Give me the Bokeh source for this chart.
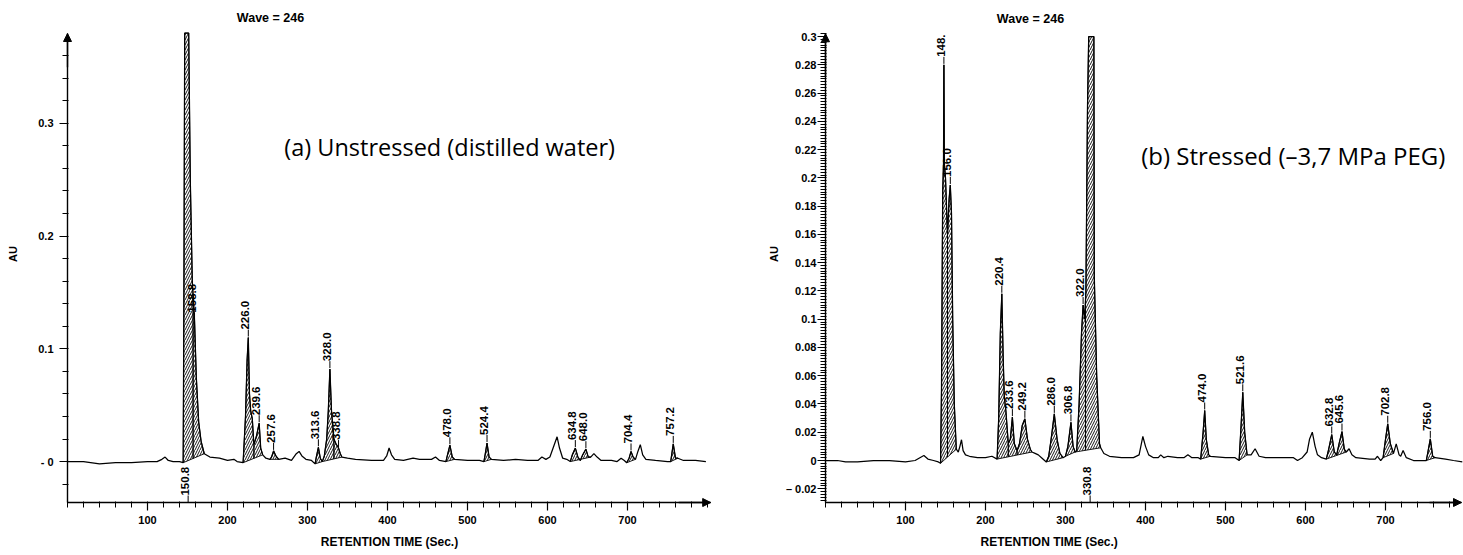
import numpy as np
from bokeh.plotting import figure
from bokeh.layouts import row
from bokeh.models import FixedTicker, Label, Arrow, NormalHead, Range1d, Title
from bokeh.embed import file_html
from bokeh.resources import INLINE
from bokeh.core.properties import value

# ---------------- Panel (a): unstressed ----------------
time_a = [0, 20, 40, 60, 80, 100, 112, 118, 122, 126, 132, 140, 144.6, 145.5, 146.5, 151.5, 153.5, 156,
          158.8, 161, 164, 167, 171, 178, 190, 200, 208, 212, 219.5, 222.5, 224.5, 226, 227.5, 229, 231,
          233, 236, 239.6, 241.5, 244, 248, 253, 255, 257.6, 260.5, 264, 272, 280, 286, 289.5, 293, 298,
          305, 309.5, 311, 313.6, 316, 318.5, 321, 324, 326, 328, 330, 333, 335.5, 338.8, 341, 343, 350,
          360, 380, 395, 399, 402, 405, 409, 420, 432, 440, 455, 460, 465, 473, 475, 478, 481, 484, 500,
          515, 520.5, 522, 524.4, 527, 530, 545, 560, 575, 588, 593, 598, 603, 607, 612, 615, 619, 624,
          628.5, 631, 634.8, 638, 641, 644, 648, 651, 654, 658, 662, 667, 680, 687, 692, 696, 699, 702,
          704.4, 707, 710, 713, 716, 719, 723, 735, 750, 754, 757.2, 760, 763, 770, 785, 798]
au_a = [0.000, 0.000, -0.002, -0.001, -0.001, 0.000, 0.000, 0.002, 0.004, 0.001, 0.000, 0.000, -0.001,
        0.15, 0.38, 0.38, 0.25, 0.16, 0.125, 0.075, 0.035, 0.018, 0.007, 0.004, 0.003, 0.001, 0.002,
        0.000, -0.001, 0.04, 0.09, 0.11, 0.06, 0.045, 0.038, 0.015, 0.022, 0.034, 0.012, 0.006, 0.003,
        0.002, 0.004, 0.0095, 0.005, 0.002, 0.003, 0.001, 0.007, 0.009, 0.005, 0.002, 0.001, -0.002,
        0.004, 0.0127, 0.003, 0.000, 0.005, 0.02, 0.045, 0.082, 0.045, 0.02, 0.016, 0.012, 0.007, 0.004,
        0.003, 0.002, 0.001, 0.001, 0.005, 0.012, 0.006, 0.002, 0.001, 0.003, 0.002, 0.002, 0.004, 0.001,
        0.000, 0.006, 0.0145, 0.004, 0.002, 0.001, 0.001, 0.000, 0.006, 0.0165, 0.004, 0.002, 0.001,
        0.002, 0.001, 0.001, 0.004, 0.002, 0.004, 0.012, 0.022, 0.012, 0.003, 0.002, 0.000, 0.006, 0.012,
        0.004, 0.001, 0.006, 0.011, 0.004, 0.004, 0.007, 0.004, 0.001, 0.001, 0.000, 0.003, 0.001, -0.001,
        0.003, 0.009, 0.004, 0.002, 0.009, 0.015, 0.006, 0.002, 0.001, 0.000, 0.000, 0.0157, 0.003, 0.003,
        0.001, 0.001, 0.000]
peak_label_a = ["150.8", "158.8", "226.0", "239.6", "257.6", "313.6", "328.0", "338.8", "478.0",
                "524.4", "634.8", "648.0", "704.4", "757.2"]
peak_rt_a = [150.8, 158.8, 226.0, 239.6, 257.6, 313.6, 328.0, 338.8, 478.0, 524.4, 634.8, 648.0, 704.4, 757.2]
peak_start_a = [144.6, 157.0, 219.5, 233.0, 253.0, 309.5, 318.5, 333.0, 473.0, 520.5, 628.5, 641.0, 699.0, 754.0]
peak_end_a = [157.0, 171.0, 233.0, 244.0, 264.0, 318.5, 333.0, 343.0, 484.0, 530.0, 641.0, 654.0, 710.0, 763.0]
peak_group_a = [0, 0, 1, 1, 2, 3, 4, 4, 5, 6, 7, 7, 8, 9]
offscale_a = ["150.8"]

# ---------------- Panel (b): stressed ----------------
time_b = [0, 15, 25, 40, 60, 80, 100, 112, 118, 123, 128, 135, 141, 143.8, 145, 146.5, 147.5, 148, 148.6,
          150, 152.5, 154.5, 156, 157.5, 159, 161, 163.5, 166, 168, 170, 172, 175, 180, 190, 200, 208,
          214.5, 216.5, 218.5, 220.4, 222, 223.5, 225.5, 228.5, 231, 233.6, 236, 239.5, 242.5, 246, 249.2,
          252.5, 256, 258, 262, 266, 270, 276, 279, 282, 286, 289.5, 293, 297, 300, 303, 306.8, 309.5,
          312, 314, 317, 320, 322, 324, 325.5, 327.5, 329, 335.5, 336, 339, 342.5, 344, 348, 355, 370,
          385, 392, 396.7, 400, 404, 410, 416, 419, 423, 428, 440, 448, 453, 458, 466, 469, 472, 474, 476,
          479, 481, 500, 512, 517, 519.5, 521.6, 524, 527, 532, 537, 542, 550, 570, 585, 590, 596, 602,
          605, 608.5, 612, 615, 620, 626, 629, 632.8, 636, 639, 642, 645.6, 648.5, 651, 654.5, 658, 663,
          680, 687, 690, 694, 697, 700, 702.8, 706, 710, 713.4, 717, 719, 722, 726, 735, 751, 753, 756,
          759, 762, 775, 785, 796]
au_b = [0.000, 0.000, -0.001, -0.001, 0.000, 0.000, -0.001, 0.000, 0.002, 0.0035, 0.001, 0.000, -0.001,
        -0.002, 0.05, 0.19, 0.21, 0.28, 0.21, 0.2, 0.16, 0.185, 0.195, 0.175, 0.1, 0.04, 0.008, 0.006,
        0.01, 0.0147, 0.007, 0.004, 0.003, 0.002, 0.002, 0.003, 0.001, 0.03, 0.09, 0.118, 0.075, 0.045,
        0.035, 0.012, 0.015, 0.0307, 0.012, 0.007, 0.012, 0.025, 0.0295, 0.015, 0.008, 0.006, 0.005,
        0.004, 0.002, -0.001, 0.003, 0.015, 0.033, 0.015, 0.005, 0.002, 0.003, 0.01, 0.027, 0.01, 0.006,
        0.007, 0.04, 0.09, 0.11, 0.1, 0.12, 0.25, 0.30, 0.30, 0.13, 0.06, 0.012, 0.009, 0.005, 0.003,
        0.002, 0.002, 0.004, 0.017, 0.01, 0.004, 0.002, 0.002, 0.004, 0.002, 0.003, 0.002, 0.002, 0.004,
        0.002, 0.002, 0.001, 0.02, 0.0354, 0.015, 0.004, 0.003, 0.002, 0.002, 0.000, 0.025, 0.0483, 0.02,
        0.004, 0.004, 0.0083, 0.003, 0.002, 0.002, 0.002, 0.000, 0.002, 0.006, 0.015, 0.02, 0.01, 0.004,
        0.002, 0.001, 0.008, 0.0184, 0.006, 0.004, 0.012, 0.0205, 0.008, 0.006, 0.0083, 0.004, 0.002,
        0.001, 0.001, 0.003, 0.000, 0.002, 0.015, 0.026, 0.012, 0.005, 0.0118, 0.004, 0.003, 0.007, 0.002,
        0.000, 0.000, 0.006, 0.0153, 0.003, 0.002, 0.001, 0.000, -0.001]
peak_label_b = ["148.", "156.0", "220.4", "233.6", "249.2", "286.0", "306.8", "322.0", "330.8", "474.0",
                "521.6", "632.8", "645.6", "702.8", "756.0"]
peak_rt_b = [148.0, 156.0, 220.4, 233.6, 249.2, 286.0, 306.8, 322.0, 330.8, 474.0, 521.6, 632.8, 645.6, 702.8, 756.0]
peak_start_b = [143.8, 152.5, 214.5, 228.5, 239.5, 276.0, 300.0, 312.0, 325.0, 469.0, 517.0, 626.0, 639.0, 697.0, 751.0]
peak_end_b = [152.5, 163.5, 228.5, 239.5, 258.0, 297.0, 312.0, 325.0, 344.0, 481.0, 527.0, 639.0, 651.0, 710.0, 762.0]
peak_group_b = [0, 0, 1, 1, 1, 2, 3, 4, 4, 5, 6, 7, 7, 8, 9]
offscale_b = ["330.8"]

# axis ticks
x_ticks = [100, 200, 300, 400, 500, 600, 700]
x_minor = list(range(0, 801, 20))
y_ticks_a = [0, 0.1, 0.2, 0.3]
y_labels_a = ["- 0", "0.1", "0.2", "0.3"]
y_ticks_b = [-0.02, 0, 0.02, 0.04, 0.06, 0.08, 0.1, 0.12, 0.14, 0.16, 0.18, 0.2, 0.22, 0.24, 0.26, 0.28, 0.3]
y_labels_b = ["\u2013 0.02", "0", "0.02", "0.04", "0.06", "0.08", "0.1", "0.12", "0.14", "0.16", "0.18",
              "0.2", "0.22", "0.24", "0.26", "0.28", "0.3"]

FONT = "Liberation Sans"
INSET = 5  # px between frame edge and the drawn axis line


def peak_polys(t, y, starts, ends, groups):
    t = np.asarray(t, float)
    y = np.asarray(y, float)
    xs, ys = [], []
    for s, e, g in zip(starts, ends, groups):
        gs = min(st for st, gg in zip(starts, groups) if gg == g)
        ge = max(en for en, gg in zip(ends, groups) if gg == g)
        y0, y1 = np.interp(gs, t, y), np.interp(ge, t, y)

        def base(x):
            return y0 + (y1 - y0) * (x - gs) / (ge - gs)

        inside = (t > s) & (t < e)
        px = [s] + list(t[inside]) + [e, e, s]
        py = [np.interp(s, t, y)] + list(y[inside]) + [np.interp(e, t, y), base(e), base(s)]
        xs.append([float(v) for v in px])
        ys.append([float(v) for v in py])
    return xs, ys


def build(width, border_left, border_right, border_bottom, xr, yr, axis_x, axis_y, t, y, labels, rts,
          starts, ends, groups, offscale, yticks, ylabels, yminor, tick_std, label_std):
    """xr/yr: frame ranges; axis_x: (x0, x_end) of drawn x-axis; axis_y: (y_bottom, y_top) of drawn y-axis"""
    p = figure(width=width, height=555, x_range=Range1d(*xr), y_range=Range1d(*yr), title=None,
               output_backend="svg", toolbar_location=None,
               min_border_left=border_left, min_border_right=border_right,
               min_border_top=0, min_border_bottom=border_bottom)
    p.outline_line_color = None
    p.grid.visible = False

    xa, ya = p.xaxis[0], p.yaxis[0]
    xa.bounds = (axis_x[0], axis_x[1])
    ya.bounds = (axis_y[0], axis_y[1])
    xa.ticker = FixedTicker(ticks=x_ticks, minor_ticks=x_minor)
    ya.ticker = FixedTicker(ticks=yticks, minor_ticks=yminor)
    ya.major_label_overrides = {k: v for k, v in zip(yticks, ylabels)}
    xa.major_label_standoff = 5
    ya.major_label_standoff = tick_std
    ya.axis_label = "AU"
    ya.axis_label_standoff = label_std
    for ax in (xa, ya):
        ax.axis_line_color = None
        ax.major_tick_in = INSET
        ax.major_tick_out = 3
        ax.minor_tick_in = INSET + 1
        ax.minor_tick_out = 0
        ax.major_tick_line_width = 1.2
        ax.major_label_text_font = FONT
        ax.major_label_text_font_style = "bold"
        ax.major_label_text_font_size = "11px"
        ax.major_label_text_color = "black"
        ax.axis_label_text_font = FONT
        ax.axis_label_text_font_style = "bold"
        ax.axis_label_text_font_size = "11px"
        ax.axis_label_text_color = "black"

    # axis lines with arrow heads
    p.segment(x0=[axis_x[0], axis_x[0]], y0=[axis_y[0], axis_y[0]],
              x1=[axis_x[0], axis_x[1]], y1=[axis_y[1], axis_y[0]], line_color="black", line_width=1.4)
    head = dict(size=8, fill_color="black", line_color="black")
    p.add_layout(Arrow(end=NormalHead(**head), x_start=axis_x[0], y_start=axis_y[1] - 0.03,
                       x_end=axis_x[0], y_end=axis_y[1], line_color="black", line_width=1.4))
    p.add_layout(Arrow(end=NormalHead(**head), x_start=axis_x[1] - 40, y_start=axis_y[0],
                       x_end=axis_x[1], y_end=axis_y[0], line_color="black", line_width=1.4))

    # integrated (hatched) peaks
    xs, ys = peak_polys(t, y, starts, ends, groups)
    p.patches(xs, ys, fill_alpha=0, hatch_pattern="/", hatch_color="black", hatch_scale=5,
              hatch_weight=0.9, line_color="black", line_width=0.9)

    # chromatogram trace
    p.line(t, y, line_color="black", line_width=1.25)

    # retention time labels
    ppu = (555 - border_bottom) / (yr[1] - yr[0])
    gap = 7.0 / ppu
    lx, ly, sx, sy0, sy1 = [], [], [], [], []
    for rt, lab in zip(rts, labels):
        if lab in offscale:
            y0 = axis_y[0]
        else:
            y0 = float(np.interp(rt, t, y)) + 1.0 / ppu
        lx.append(rt)
        ly.append(y0 + gap)
        sx.append(rt)
        sy0.append(y0)
        sy1.append(y0 + gap)
    p.segment(x0=sx, y0=sy0, x1=sx, y1=sy1, line_color="black", line_width=1)
    p.text(x=lx, y=ly, text=labels, angle=np.pi / 2, text_align="left", text_baseline="bottom",
           text_font=value(FONT), text_font_size="11.5px", text_font_style="bold", text_color="black",
           x_offset=1)
    return p


# ---- figure (a): x=0 at px 67, 0.8 px/s; y=0 at py 462, 1130 px/AU
pa = build(735, 62, 19, 47, (-6.25, 811.25), (-0.04071, 0.40885), (0, 804), (-0.0363, 0.3796),
           time_a, au_a, peak_label_a, peak_rt_a, peak_start_a, peak_end_a, peak_group_a, offscale_a,
           y_ticks_a, y_labels_a, [round(-0.02 + 0.02 * i, 2) for i in range(20)], 6, 16)
pa.add_layout(Label(x=253.75, y=0.3929, text="Wave = 246", text_align="center", text_baseline="middle",
                    text_font=FONT, text_font_style="bold", text_font_size="12.5px", text_color="black"))
pa.add_layout(Label(x=271, y=0.279, text="(a)  Unstressed (distilled water)", text_align="left",
                    text_baseline="middle", text_font="Open Sans", text_font_size="23.5px",
                    text_color="black"))
pa.add_layout(Title(text="RETENTION TIME (Sec.)", align="center", text_font=FONT, text_font_style="bold",
                    text_font_size="12px", text_color="black", standoff=12), "below")

# ---- figure (b): x=0 at px 825, 0.8 px/s; y=0 at py 460, 1413 px/AU
pb = build(728, 85, 0, 48, (-6.25, 797.5), (-0.03326, 0.32555), (0, 795), (-0.02972, 0.302),
           time_b, au_b, peak_label_b, peak_rt_b, peak_start_b, peak_end_b, peak_group_b, offscale_b,
           y_ticks_b, y_labels_b, [round(-0.028 + 0.002 * i, 3) for i in range(166)], 1, 3)
pb.add_layout(Label(x=256.25, y=0.3128, text="Wave = 246", text_align="center", text_baseline="middle",
                    text_font=FONT, text_font_style="bold", text_font_size="12.5px", text_color="black"))
pb.add_layout(Label(x=394.6, y=0.216, text="(b)  Stressed (\u20133,7 MPa PEG)", text_align="left",
                    text_baseline="middle", text_font="Open Sans", text_font_size="24px",
                    text_color="black"))
pb.add_layout(Title(text="RETENTION TIME (Sec.)", align="left", offset=160, text_font=FONT,
                    text_font_style="bold", text_font_size="12px", text_color="black", standoff=12), "below")

layout = row(pa, pb)
open("out.html", "w").write(file_html(layout, INLINE))
